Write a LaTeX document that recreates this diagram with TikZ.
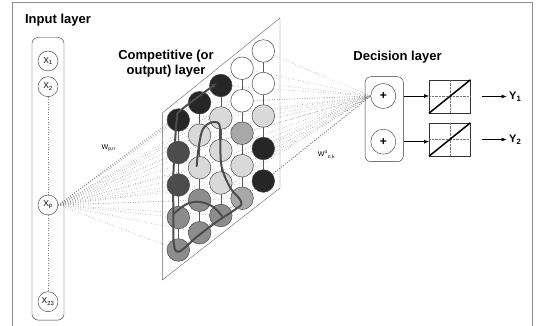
\documentclass[tikz,border=0pt]{standalone}
\usepackage{fontspec}
\setmainfont{Liberation Sans}
\usetikzlibrary{positioning,backgrounds,arrows.meta}

\definecolor{frameGray}{gray}{0.55}
\definecolor{cellBlack}{gray}{0.15}
\definecolor{cellDark}{gray}{0.30}
\definecolor{cellMid}{gray}{0.55}
\definecolor{cellSoft}{gray}{0.66}
\definecolor{cellLight}{gray}{0.85}

\tikzset{
	title/.style = {font=\bfseries\fontsize{13}{15}\selectfont, align=center, inner sep=0pt},
	neuron/.style = {circle, draw=black!80, minimum size=20pt, inner sep=0pt, font=\fontsize{8.5}{9}\selectfont},
	cell/.style = {circle, draw=black!70, line width=0.5pt, minimum size=22.6pt, inner sep=0pt},
	sumnode/.style = {circle, draw=black!80, minimum size=25pt, inner sep=0pt, font=\bfseries\fontsize{12}{12}\selectfont},
	actbox/.style = {draw=black!80, minimum width=41pt, minimum height=33pt, inner sep=0pt},
	link/.style = {black!50, dotted, line width=0.5pt},
	track/.style = {black!70, line width=2pt, line cap=round, line join=round},
	arrow/.style = {-{Latex[length=5pt,width=4pt]}, line width=0.5pt},
	weight/.style = {font=\fontsize{7}{8}\selectfont, inner sep=0pt},
	outlabel/.style = {font=\bfseries\fontsize{11}{12}\selectfont, inner sep=1pt, anchor=west}
}

\begin{document}
\begin{tikzpicture}[x=1pt, y=-1pt]
	\useasboundingbox (0,0) rectangle (536,326);
	% frame (open at the bottom)
	\draw[frameGray, line width=0.8pt] (12,326) -- (12,2.5) -- (532,2.5) -- (532,326);

	% input layer
	\node[title] (inTitle) at (58,20) {Input layer};
	\node[draw=black!80, rounded corners=6pt, minimum width=32pt, minimum height=282.5pt] (inBox) at (48,178.8) {};
	\node[neuron] (x1) at (48,61) {X\textsubscript{1}};
	\node[neuron] (x2) at (48,86.7) {X\textsubscript{2}};
	\node[neuron] (xp) at (48,205) {X\textsubscript{p}};
	\node[neuron] (x23) at (48,301.7) {X\textsubscript{23}};
	\draw[link] (x2) -- (xp);
	\draw[link] (xp) -- (x23);
	\node[weight] (wIn) at (108.7,148.3) {W\textsubscript{p,n}};

	% competitive layer
	\node[title] (compTitle) at (166,63.5) {Competitive (or\\output) layer};
	\draw[black!60] (162.3,113) -- (280,18) -- (280,188) -- (162.3,280) -- cycle;
	\foreach \i/\ta/\tb/\tc/\td/\te in {
		0/cellBlack/cellDark/cellDark/cellMid/cellMid,
		1/cellBlack/cellLight/cellLight/cellMid/cellMid,
		2/cellBlack/cellLight/cellLight/cellLight/cellMid,
		3/white/white/cellSoft/cellLight/cellSoft,
		4/white/white/cellLight/cellBlack/cellBlack}
	{
		\foreach \j/\tone in {0/\ta, 1/\tb, 2/\tc, 3/\td, 4/\te}
			{\node[cell, fill=\tone] (c\i\j) at (178.3+21.25*\i, 120-17.25*\i+32.5*\j) {};}
	}
	% winner track
	\draw[track, -{Stealth[length=6pt,width=5pt]}] plot[smooth, tension=0.55] coordinates {
		(196.7,166) (198.3,150) (201.7,132) (207,124.5) (214,122) (219.5,125)
		(220.3,143) (221,163) (225,177) (231.7,190) (239,198) (241.5,204)
		(236.5,208.5) (215,223) (196.7,237) (182,250) (176,251) (173.5,240)
		(173.3,210) (173.3,177) (175,143) (177,118) (181,110) (216.7,83.3)};
	\draw[track] plot[smooth, tension=0.6] coordinates {
		(173.5,214) (186.7,204) (200,202) (213.3,207) (222,216)};
	\node[weight] (wOut) at (326.5,155) {W\textsuperscript{o}\textsubscript{n,k}};

	% decision layer
	\node[title] (decTitle) at (397.5,56.7) {Decision layer};
	\node[draw=black!80, rounded corners=6pt, minimum width=38.3pt, minimum height=85pt] (decBox) at (384.2,119.2) {};
	\node[sumnode] (dec1) at (383.3,96) {+};
	\node[sumnode] (dec2) at (383.3,141.7) {+};
	\node[actbox] (act1) at (449.7,96.5) {};
	\node[actbox] (act2) at (449.7,139.5) {};
	\foreach \a in {act1, act2}
	{
		\draw[black!55, densely dotted] (\a.west) -- (\a.east);
		\draw[black!55, densely dotted] (\a.north) -- (\a.south);
		\draw[line width=1.5pt] (\a.south west) -- (\a.north east);
	}
	\draw[arrow] (decBox.east |- dec1) -- (act1.west |- dec1);
	\draw[arrow] (decBox.east |- dec2) -- (act2.west |- dec2);
	\node[outlabel] (y1) at (508,96.5) {Y\textsubscript{1}};
	\node[outlabel] (y2) at (508,139.5) {Y\textsubscript{2}};
	\draw[arrow, shorten >=1.5pt] ([xshift=11.7pt]act1.east) -- (y1.west);
	\draw[arrow, shorten >=1.5pt] ([xshift=11.7pt]act2.east) -- (y2.west);

	% weights, behind the cells
	\begin{scope}[on background layer]
		\foreach \i in {0,...,4}
			\foreach \j in {0,...,4}
			{
				\draw[link] (xp.east) -- (c\i\j.center);
				\draw[link] (c\i\j.center) -- (dec1.west);
			}
		\foreach \i in {0,...,4}
			{\draw[black!65] (c\i0.center) -- (c\i4.center);}
	\end{scope}
\end{tikzpicture}
\end{document}
